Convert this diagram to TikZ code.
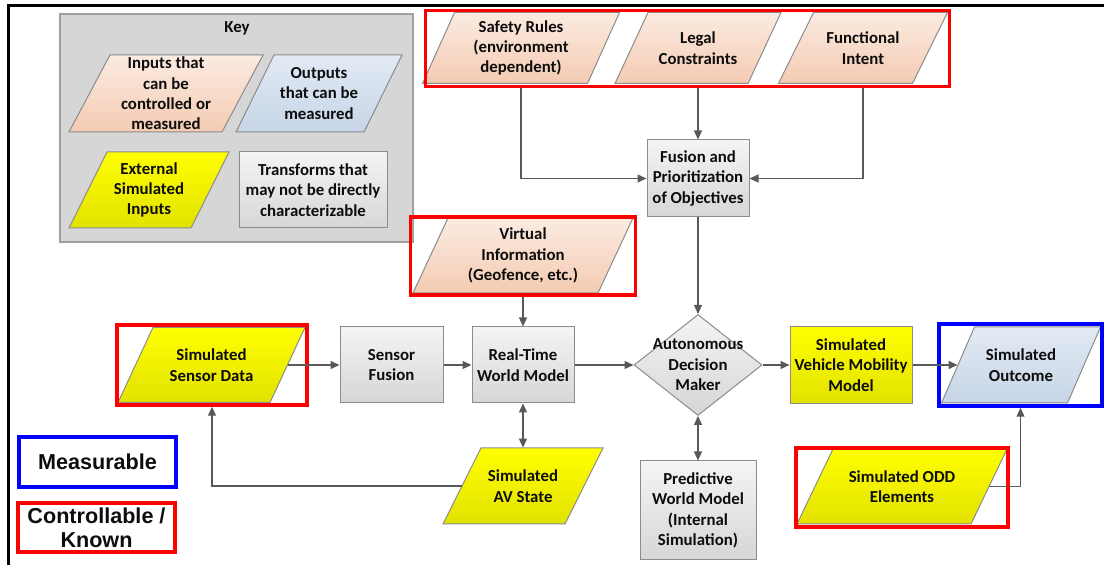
\documentclass[tikz,border=0pt]{standalone}
\usepackage{fontspec}
\setmainfont{Carlito}
\newfontfamily\legendfont{Liberation Sans}
\usetikzlibrary{shapes.geometric,arrows.meta,calc}

\definecolor{peachtop}{HTML}{FBEBE1}
\definecolor{peachbot}{HTML}{F4CBB2}
\definecolor{bluetop}{HTML}{E2EAF4}
\definecolor{bluebot}{HTML}{C6D5E7}
\definecolor{yeltop}{HTML}{FFFF00}
\definecolor{yelbot}{HTML}{E2E200}
\definecolor{graytop}{HTML}{F4F4F4}
\definecolor{graybot}{HTML}{D6D6D6}
\definecolor{edge}{HTML}{8C8C8C}
\definecolor{keyfill}{HTML}{D6D6D6}
\definecolor{keyedge}{HTML}{A0A0A0}
\definecolor{wire}{HTML}{595959}

% slanted input/output box: name, x, y, edge length, height, skew, fill style, text
\newcommand{\slantbox}[8]{%
  \shade[#7] ({#2-#4/2-#6/2},{#3+#5/2}) -- ({#2-#4/2+#6/2},{#3-#5/2})
    -- ({#2+#4/2+#6/2},{#3-#5/2}) -- ({#2+#4/2-#6/2},{#3+#5/2}) -- cycle;
  \node[txt, dims={#4}{#5}] (#1) at (#2,#3) {#8};
}

\begin{document}
\begin{tikzpicture}[x=0.5pt,y=-0.5pt,
  txt/.style={font=\bfseries\fontsize{8.4}{10.2}\selectfont, align=center, inner sep=0pt, text=black!95},
  dims/.style 2 args={minimum width=#1*0.5pt, minimum height=#2*0.5pt},
  procbox/.style={txt, draw=edge, line width=0.5pt, top color=graytop, bottom color=graybot},
  yelbox/.style={txt, draw=edge, line width=0.5pt, top color=yeltop, bottom color=yelbot},
  peachfill/.style={draw=edge, line width=0.5pt, top color=peachtop, bottom color=peachbot},
  bluefill/.style={draw=edge, line width=0.5pt, top color=bluetop, bottom color=bluebot},
  yelfill/.style={draw=edge, line width=0.5pt, top color=yeltop, bottom color=yelbot},
  redframe/.style={draw=red, line width=1.75pt, inner sep=0pt},
  blueframe/.style={draw=blue, line width=1.75pt, inner sep=0pt},
  legendtxt/.style={font=\legendfont\bfseries\fontsize{10.8}{12}\selectfont, align=center, text=black!95},
  tip/.tip={Triangle[length=4.5pt,width=4pt]},
  conn/.style={draw=wire, line width=0.6pt, -tip},
  biconn/.style={draw=wire, line width=0.6pt, tip-tip},
]
\useasboundingbox (0,0) rectangle (1104,565);

% outer frame
\draw[line width=1.5pt] (8,565) -- (8,6) -- (1104,6);

% key
\node[dims={353}{228}, draw=keyedge, fill=keyfill, line width=0.6pt] (key) at (236.5,128) {};
\node[txt] (keytitle) at (237,28) {Key};
\slantbox{keyin}{166}{93.5}{153}{77}{41}{peachfill}{Inputs that\\can be\\controlled or\\measured}
\slantbox{keyout}{319}{93.5}{128}{77}{38}{bluefill}{Outputs\\that can be\\measured}
\slantbox{keyext}{149}{190}{122}{76}{38}{yelfill}{External\\Simulated\\Inputs}
\node[procbox, dims={148}{76}] (keytrans) at (313,190) {Transforms that\\may not be directly\\characterizable};

% objectives
\slantbox{safety}{521}{48}{165}{71}{32}{peachfill}{Safety Rules\\(environment\\dependent)}
\slantbox{legal}{698}{48}{133}{71}{33}{peachfill}{Legal\\Constraints}
\slantbox{functional}{863}{48}{134}{71}{35}{peachfill}{Functional\\Intent}
\node[redframe, dims={524}{76}] (topframe) at (687.5,48.5) {};

\node[procbox, dims={102}{77}] (fusion) at (698,178.5) {Fusion and\\Prioritization\\of Objectives};

% virtual information
\slantbox{virtual}{523}{255.5}{185}{75}{35}{peachfill}{Virtual\\Information\\(Geofence, etc.)}
\node[redframe, dims={225}{78}] (virtframe) at (523,256) {};

% main chain
\slantbox{sdata}{211.5}{365}{152}{75}{35}{yelfill}{Simulated\\Sensor Data}
\node[redframe, dims={190}{80}] (sdframe) at (212,365) {};
\node[procbox, dims={103}{76}] (sfusion) at (391.5,365) {Sensor\\Fusion};
\node[procbox, dims={102}{76}] (rtwm) at (523,365) {Real-Time\\World Model};
\node[diamond, draw=edge, line width=0.5pt, top color=graytop, bottom color=graybot, dims={128}{101}, inner sep=0pt] (adm) at (698,365) {};
\node[txt] (admtext) at (adm) {Autonomous\\Decision\\Maker};
\node[yelbox, dims={122}{77}] (vmm) at (851,365) {Simulated\\Vehicle Mobility\\Model};
\slantbox{outcome}{1021}{365}{126}{76}{33}{bluefill}{Simulated\\Outcome}
\node[blueframe, dims={163}{82}] (outframe) at (1020.5,365) {};

% lower row
\slantbox{avstate}{523}{486}{122}{76}{38}{yelfill}{Simulated\\AV State}
\node[procbox, dims={116}{99}] (pred) at (698,510.5) {Predictive\\World Model\\(Internal\\Simulation)};
\slantbox{odd}{902}{486.5}{174}{75}{36}{yelfill}{Simulated ODD\\Elements}
\node[redframe, dims={212}{79}] (oddframe) at (902,487.5) {};

% legend
\node[blueframe, legendtxt, dims={157}{50}] (measurable) at (97.5,462) {Measurable};
\node[redframe, legendtxt, dims={157}{49}] (controllable) at (96.5,527.5) {Controllable /\\Known};

% connectors
\draw[conn] (topframe.south -| safety) |- (fusion.west);
\draw[conn] (topframe.south -| fusion.north) -- (fusion.north);
\draw[conn] (topframe.south -| functional) |- (fusion.east);
\draw[conn] (fusion.south) -- (adm.north);
\draw[conn] (virtframe.south) -- (rtwm.north);
\draw[conn] (sdata.east) -- (sfusion.west);
\draw[conn] (sfusion.east) -- (rtwm.west);
\draw[conn] (rtwm.east) -- (adm.west);
\draw[conn] (adm.east) -- (vmm.west);
\draw[conn] (vmm.east) -- (outcome.west);
\draw[biconn] (rtwm.south) -- (avstate.north);
\draw[biconn] (adm.south) -- (pred.north);
\draw[conn] (avstate.west) -| (sdframe.south);
\draw[conn] (odd.east) -| (outframe.south);
\end{tikzpicture}
\end{document}
